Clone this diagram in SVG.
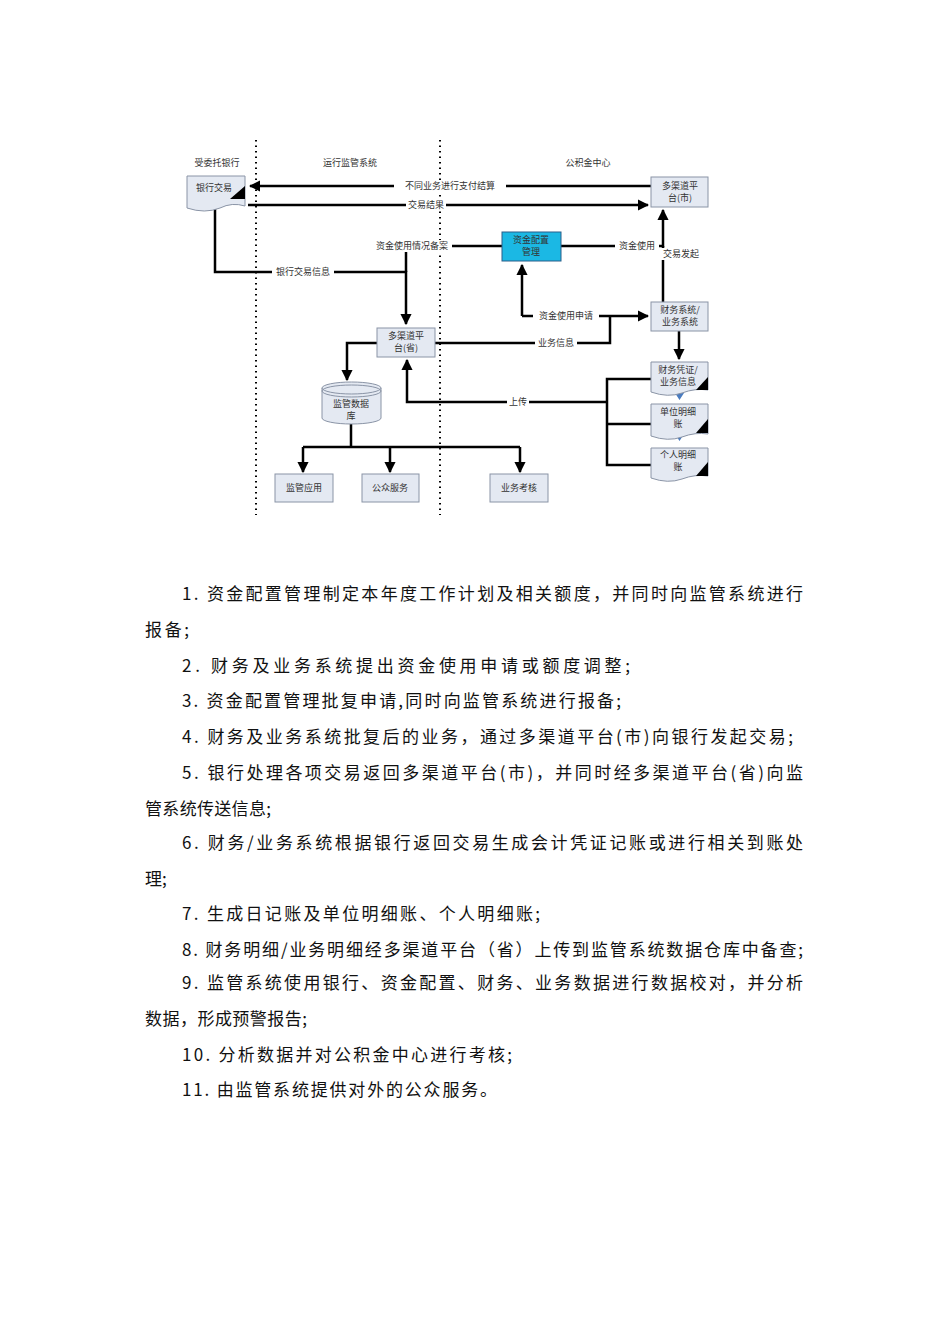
<svg xmlns="http://www.w3.org/2000/svg" width="950" height="1344" viewBox="0 0 950 1344">
<style>
text{font-family:"Noto Sans CJK SC","Noto Sans",sans-serif;fill:#333}
.s{font-size:9px;text-anchor:middle}
.t{font-size:17px;fill:#111}
.box{fill:#e4e9f2;stroke:#8a94a6;stroke-width:1}
.ln{fill:none;stroke:#000;stroke-width:2.5}
.dot{stroke:#000;stroke-width:2;stroke-dasharray:1.5 4}
.lbl{fill:#fff}
</style>
<defs>
<marker id="a" viewBox="0 0 10 10" refX="9" refY="5" markerWidth="4.5" markerHeight="4.5" orient="auto"><path d="M0,0L10,5L0,10z" fill="#000"/></marker>
</defs>
<rect width="950" height="1344" fill="#fff"/>
<line class="dot" x1="256" y1="140" x2="256" y2="515"/>
<line class="dot" x1="440" y1="140" x2="440" y2="515"/>
<text class="s" x="217" y="166">受委托银行</text>
<text class="s" x="350" y="166">运行监管系统</text>
<text class="s" x="588" y="166">公积金中心</text>
<g id="connectors">
<path class="ln" d="M651,186H250" marker-end="url(#a)"/>
<path class="ln" d="M248,205H648" marker-end="url(#a)"/>
<path class="ln" d="M215,208V272H406V324" marker-end="url(#a)"/>
<path class="ln" d="M502,246H406V272"/>
<path class="ln" d="M561,246H663V210" marker-end="url(#a)"/>
<path class="ln" d="M663,302V246"/>
<path class="ln" d="M522,316V265" marker-end="url(#a)"/>
<path class="ln" d="M522,316H648" marker-end="url(#a)"/>
<path class="ln" d="M610,316V343H410" marker-end="url(#a)"/>
<path class="ln" d="M679,331V359" marker-end="url(#a)"/>
<path class="ln" d="M651,379H607V465H651M607,424H651"/>
<path class="ln" d="M607,402H407V360" marker-end="url(#a)"/>
<path class="ln" d="M377,343H347V380" marker-end="url(#a)"/>
<path class="ln" d="M351,424V447M303,447H520"/>
<path class="ln" d="M303,447V472" marker-end="url(#a)"/>
<path class="ln" d="M390,447V472" marker-end="url(#a)"/>
<path class="ln" d="M520,447V472" marker-end="url(#a)"/>
<path d="M675,393h9l-4.5,7z M675,434h9l-4.5,7z" fill="#4a7cc0"/>
<rect class="lbl" x="394" y="180" width="112" height="12"/><text class="s" x="450" y="189">不同业务进行支付结算</text>
<rect class="lbl" x="406" y="199" width="40" height="12"/><text class="s" x="426" y="208">交易结果</text>
<rect class="lbl" x="372" y="240" width="80" height="12"/><text class="s" x="412" y="249">资金使用情况备案</text>
<rect class="lbl" x="272" y="266" width="62" height="12"/><text class="s" x="303" y="275">银行交易信息</text>
<rect class="lbl" x="615" y="240" width="44" height="12"/><text class="s" x="637" y="249">资金使用</text>
<rect class="lbl" x="660" y="248" width="42" height="12"/><text class="s" x="681" y="257">交易发起</text>
<rect class="lbl" x="533" y="310" width="66" height="12"/><text class="s" x="566" y="319">资金使用申请</text>
<rect class="lbl" x="535" y="337" width="42" height="12"/><text class="s" x="556" y="346">业务信息</text>
<rect class="lbl" x="507" y="396" width="22" height="12"/><text class="s" x="518" y="405">上传</text>
</g>
<g id="bank"><path class="box" d="M187,176H245V206Q232,202 220,208Q205,214 187,208Z"/><path d="M245,186L230,199L245,199Z" fill="#000"/><text class="s" x="214" y="191">银行交易</text></g>
<g id="city"><rect class="box" x="651" y="177" width="57" height="30"/><text class="s" x="680" y="189">多渠道平</text><text class="s" x="680" y="201">台(市)</text></g>
<g id="fund"><rect x="502" y="232" width="59" height="29" fill="#1bb8e4" stroke="#2a5f8a"/><text class="s" x="531" y="243">资金配置</text><text class="s" x="531" y="255">管理</text></g>
<g id="fin"><rect class="box" x="651" y="302" width="57" height="29"/><text class="s" x="680" y="313">财务系统/</text><text class="s" x="680" y="325">业务系统</text></g>
<g id="prov"><rect class="box" x="377" y="328" width="58" height="29"/><text class="s" x="406" y="339">多渠道平</text><text class="s" x="406" y="351">台(省)</text></g>
<g id="voucher"><path class="box" d="M651,362H708V390Q695,388 682,393Q668,398 651,392Z"/><path d="M708,377L696,390L708,390Z" fill="#000"/><text class="s" x="678" y="373">财务凭证/</text><text class="s" x="678" y="385">业务信息</text></g>
<g id="unit"><path class="box" d="M651,404H708V434Q695,432 682,437Q668,442 651,436Z"/><path d="M708,419L696,433L708,433Z" fill="#000"/><text class="s" x="678" y="415">单位明细</text><text class="s" x="678" y="427">账</text></g>
<g id="person"><path class="box" d="M651,448H708V476Q695,474 682,479Q668,484 651,478Z"/><path d="M708,462L696,476L708,476Z" fill="#000"/><text class="s" x="678" y="458">个人明细</text><text class="s" x="678" y="470">账</text></g>
<g id="db"><path class="box" d="M322,388V418A29.5,6 0 0 0 381,418V388"/><ellipse class="box" cx="351.5" cy="388" rx="29.5" ry="6"/><ellipse cx="351.5" cy="391" rx="29.5" ry="6" fill="none" stroke="#8a94a6"/><text class="s" x="351" y="407">监管数据</text><text class="s" x="351" y="419">库</text></g>
<g id="app"><rect class="box" x="275" y="474" width="58" height="28"/><text class="s" x="304" y="491">监管应用</text></g>
<g id="pub"><rect class="box" x="362" y="474" width="57" height="28"/><text class="s" x="390" y="491">公众服务</text></g>
<g id="eval"><rect class="box" x="490" y="474" width="58" height="28"/><text class="s" x="519" y="491">业务考核</text></g>
<g id="body">
<text class="t" x="182" y="600" textLength="621" lengthAdjust="spacing">1.  资金配置管理制定本年度工作计划及相关额度，并同时向监管系统进行</text>
<text class="t" x="145" y="636" textLength="44" lengthAdjust="spacing">报备;</text>
<text class="t" x="182" y="672" textLength="448" lengthAdjust="spacing">2.  财务及业务系统提出资金使用申请或额度调整;</text>
<text class="t" x="182" y="707" textLength="439" lengthAdjust="spacing">3.  资金配置管理批复申请,同时向监管系统进行报备;</text>
<text class="t" x="182" y="743" textLength="611" lengthAdjust="spacing">4.  财务及业务系统批复后的业务，通过多渠道平台(市)向银行发起交易;</text>
<text class="t" x="182" y="779" textLength="621" lengthAdjust="spacing">5.  银行处理各项交易返回多渠道平台(市)，并同时经多渠道平台(省)向监</text>
<text class="t" x="145" y="815" textLength="126" lengthAdjust="spacing">管系统传送信息;</text>
<text class="t" x="182" y="849" textLength="621" lengthAdjust="spacing">6.  财务/业务系统根据银行返回交易生成会计凭证记账或进行相关到账处</text>
<text class="t" x="145" y="885">理;</text>
<text class="t" x="182" y="920" textLength="358" lengthAdjust="spacing">7.  生成日记账及单位明细账、个人明细账;</text>
<text class="t" x="182" y="956" textLength="621" lengthAdjust="spacing">8.  财务明细/业务明细经多渠道平台（省）上传到监管系统数据仓库中备查;</text>
<text class="t" x="182" y="989" textLength="621" lengthAdjust="spacing">9.  监管系统使用银行、资金配置、财务、业务数据进行数据校对，并分析</text>
<text class="t" x="145" y="1025" textLength="162" lengthAdjust="spacing">数据，形成预警报告;</text>
<text class="t" x="182" y="1061" textLength="330" lengthAdjust="spacing">10.  分析数据并对公积金中心进行考核;</text>
<text class="t" x="182" y="1096" textLength="315" lengthAdjust="spacing">11.  由监管系统提供对外的公众服务。</text>
</g>
</svg>
